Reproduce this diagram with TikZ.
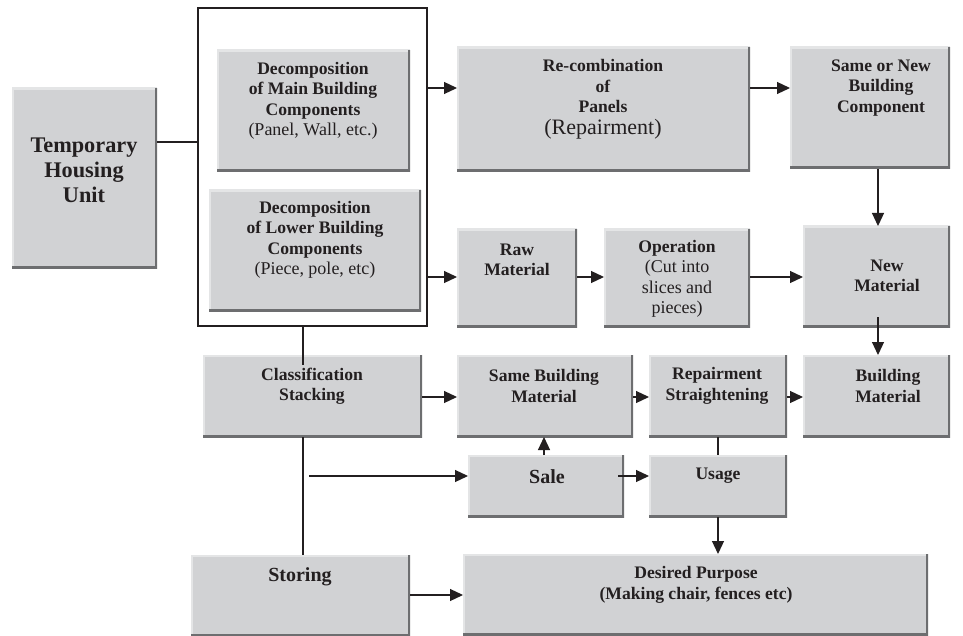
\documentclass[tikz,border=0pt]{standalone}
\usepackage{fontspec}
\setmainfont{Liberation Serif}
\usetikzlibrary{arrows.meta}
\definecolor{boxgray}{HTML}{D1D2D4}
\definecolor{shadowgray}{HTML}{6D6E70}
\definecolor{hilite}{HTML}{E4E5E6}
\definecolor{ink}{HTML}{231F20}
\newcommand\bfs{\fontsize{17.6}{20.5}\selectfont\bfseries}
\newcommand\rgs{\fontsize{18}{20.5}\selectfont\mdseries}
\newcommand\gbox[5]{\node[gbox, minimum width={#4-#2}, minimum height={#5-#3}] (#1) at ({(#2+#4)/2},{(#3+#5)/2}) {};}
\begin{document}
\begin{tikzpicture}[x=1pt,y=-1pt,
  gbox/.style={fill=boxgray, draw=none, inner sep=0pt, outer sep=0pt, path picture={
    \draw[hilite,line width=4pt] (path picture bounding box.south west) -- (path picture bounding box.north west) -- (path picture bounding box.north east);
    \draw[shadowgray,line width=5pt] (path picture bounding box.north east) -- (path picture bounding box.south east) -- (path picture bounding box.south west);}},
  txt/.style={align=center, text=ink, inner sep=0pt, font=\bfs},
  ln/.style={line width=1.2pt, draw=ink},
  arr/.style={ln, -{Triangle[length=13pt,width=12pt]}}]
\useasboundingbox (0,0) rectangle (963,636);
% frame
\node[draw=ink, line width=1.2pt, inner sep=0pt, outer sep=0pt, minimum width=229, minimum height=318] (frame) at (312.5,167) {};
% boxes
\gbox{thu}{12}{88}{157}{268}
\gbox{dmain}{217}{50}{410}{172}
\gbox{dlow}{209}{190}{421}{311}
\gbox{recomb}{457}{47}{750}{172}
\gbox{same}{790}{47}{950}{169}
\gbox{raw}{457}{229}{577}{327}
\gbox{oper}{604}{229}{750}{327}
\gbox{newm}{803}{226}{950}{327}
\gbox{class}{203}{355}{422}{437}
\gbox{sbm}{457}{355}{633}{437}
\gbox{rep}{649}{355}{787}{437}
\gbox{bm}{803}{355}{950}{437}
\gbox{sale}{468}{455}{624}{517}
\gbox{usage}{649}{455}{787}{517}
\gbox{stor}{191}{555}{410}{636}
\gbox{desired}{463}{554}{928}{635}
% texts
\node[txt, font=\fontsize{22.3}{25}\selectfont\bfseries] (thu-t) at (84,170) {Temporary\\Housing\\Unit};
\node[txt] (dmain-t) at (313,101) {Decomposition\\of Main Building\\Components\\{\rgs(Panel, Wall, etc.)}};
\node[txt] (dlow-t) at (315,240) {Decomposition\\of Lower Building\\Components\\{\rgs(Piece, pole, etc)}};
\node[txt] (recomb-t) at (603,99) {Re-combination\\of\\Panels\\[1pt]{\fontsize{22}{24}\selectfont\mdseries(Repairment)}};
\node[txt] (same-t) at (881,88) {Same or New\\Building\\Component};
\node[txt] (raw-t) at (517,260) {Raw\\Material};
\node[txt] (oper-t) at (677,279) {Operation\\{\rgs(Cut into}\\{\rgs slices and}\\{\rgs pieces)}};
\node[txt] (newm-t) at (887,276) {New\\Material};
\node[txt] (class-t) at (312,386) {Classification\\Stacking};
\node[txt] (sbm-t) at (544,386) {Same Building\\Material};
\node[txt] (rep-t) at (717,386) {Repairment\\Straightening};
\node[txt] (bm-t) at (888,386) {Building\\Material};
\node[txt, font=\fontsize{20}{22}\selectfont\bfseries] (sale-t) at (547,477) {Sale};
\node[txt] (usage-t) at (718,476) {Usage};
\node[txt, font=\fontsize{20}{22}\selectfont\bfseries] (stor-t) at (300,577) {Storing};
\node[txt] (desired-t) at (696,585) {Desired Purpose\\(Making chair, fences etc)};
% connectors
\coordinate (branch) at (309,476);
\draw[ln] (thu.east |- 0,142) -- (frame.west |- 0,142);
\draw[arr] (frame.east |- 0,88) -- (recomb.west |- 0,88);
\draw[arr] (frame.east |- 0,277) -- (raw.west |- 0,277);
\draw[arr] (recomb.east |- 0,88) -- (same.west |- 0,88);
\draw[arr] (same.south -| 878,0) -- (newm.north -| 878,0);
\draw[arr] (raw.east |- 0,277) -- (oper.west |- 0,277);
\draw[arr] (oper.east |- 0,277) -- (newm.west |- 0,277);
\draw[arr] ([yshift=10pt]newm.south -| 878,0) -- (bm.north -| 878,0);
\draw[ln] (frame.south -| 303,0) -- ([yshift=-10pt]class.north -| 303,0);
\draw[arr] (class.east |- 0,397) -- (sbm.west |- 0,397);
\draw[arr] (sbm.east |- 0,397) -- (rep.west |- 0,397);
\draw[arr] (rep.east |- 0,397) -- (bm.west |- 0,397);
\draw[ln] (class.south -| 303,0) -- (stor.north -| 303,0);
\draw[arr] (branch) -- (sale.west |- branch);
\draw[arr] (sale.north -| 544,0) -- (sbm.south -| 544,0);
\draw[arr] ([xshift=-6pt]sale.east |- 0,476) -- (usage.west |- 0,476);
\draw[ln] (rep.south -| 718,0) -- (usage.north -| 718,0);
\draw[arr] (usage.south -| 718,0) -- (desired.north -| 718,0);
\draw[arr] (stor.east |- 0,595) -- (desired.west |- 0,595);
\end{tikzpicture}
\end{document}
